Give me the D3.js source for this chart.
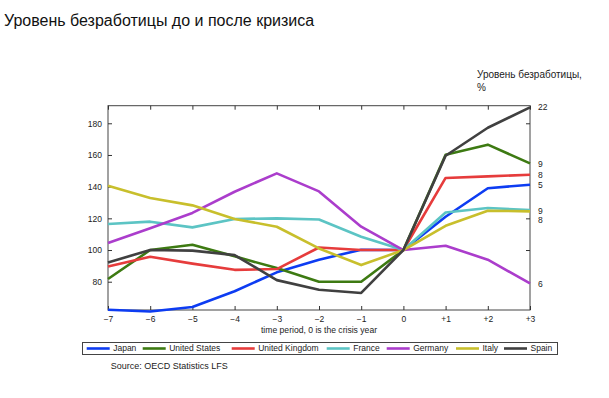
<!DOCTYPE html>
<html><head><meta charset="utf-8">
<script src="https://cdn.jsdelivr.net/npm/d3@7"></script>
<style>body{margin:0;background:#fff;}svg{display:block;font-family:"Liberation Sans",Arial,sans-serif;}</style>
</head><body><svg id="c" width="609" height="398"></svg>
<script>
const periods = [-7,-6,-5,-4,-3,-2,-1,0,1,2,3];
const periodLabels = ["−7","−6","−5","−4","−3","−2","−1","0","+1","+2","+3"];
const japan   = [62.3,61.2,64,74,85.9,93.9,100.2,100,121,139,141.2];
const us      = [81.7,100,103.3,96,88.6,80,80,100,160.2,166.5,154.7];
const uk      = [89.6,95.8,91.4,87.5,88,101.6,100,100,145.5,146.5,147.5];
const france  = [116.4,117.9,114.3,119.6,120,119.3,108.4,100,123.7,126.5,125.3];
const germany = [104.4,113.8,123.4,136.8,148.4,137,114.7,100,102.7,93.9,78.9];
const italy   = [140.6,132.8,128.2,119.6,114.7,101,90.5,100,115.3,124.8,124.4];
const spain   = [92.2,100,99.6,96.8,81,74.9,72.9,100,159.5,177.2,190];
const seriesNames = ["Japan","United States","United Kingdom","France","Germany","Italy","Spain"];
const seriesColors = ["#0d3cf2","#3d7a12","#e63c3c","#5cc4c4","#ab3dcc","#c8bf2c","#404040"];
const leftTicks = [80,100,120,140,160,180];
const rightTickValues = [180,120,100];
const rightLabels = ["22","9","8","5","9","8","6"];
const rightLabelValues = [190,154.3,147.4,141,124.8,119.1,78.5];

const seriesData = [japan,us,uk,france,germany,italy,spain];
const svg = d3.select("#c");
const L=108,R=530,T=105.7,B=310;
const x = d3.scaleLinear().domain([-7,3]).range([L,R]);
const y = d3.scaleLinear().domain([61.7,191.1]).range([B+0.7,T]);

svg.append("text").attr("x",4).attr("y",26).attr("font-size",16).attr("fill","#111")
  .text("Уровень безработицы до и после кризиса");

// frame
svg.append("rect").attr("x",L).attr("y",T).attr("width",R-L).attr("height",B-T)
  .attr("fill","none").attr("stroke","#444").attr("stroke-width",1);

const axC="#333";
const gx = svg.append("g").attr("transform",`translate(0,${B})`)
  .call(d3.axisBottom(x).tickValues(periods).tickSize(-4).tickPadding(6).tickFormat((d,i)=>periodLabels[i]));
gx.select(".domain").remove();
gx.selectAll("line").attr("stroke",axC);
gx.selectAll("text").attr("font-size",8.5).attr("fill","#222").attr("font-family","Liberation Sans, Arial, sans-serif");
const gt = svg.append("g").attr("transform",`translate(0,${T})`)
  .call(d3.axisTop(x).tickValues(periods).tickSize(-4).tickFormat(""));
gt.select(".domain").remove(); gt.selectAll("line").attr("stroke",axC);
const gy = svg.append("g").attr("transform",`translate(${L},0)`)
  .call(d3.axisLeft(y).tickValues(leftTicks).tickSize(-4).tickPadding(6));
gy.select(".domain").remove();
gy.selectAll("line").attr("stroke",axC);
gy.selectAll("text").attr("font-size",8.5).attr("fill","#222").attr("font-family","Liberation Sans, Arial, sans-serif");
const gr = svg.append("g").attr("transform",`translate(${R},0)`)
  .call(d3.axisRight(y).tickValues(rightTickValues).tickSize(-4).tickFormat(""));
gr.select(".domain").remove(); gr.selectAll("line").attr("stroke",axC);

const line = d3.line().x((d,i)=>x(periods[i])).y(d=>y(d));
seriesData.forEach((s,k)=>{
  svg.append("path").datum(s).attr("d",line).attr("fill","none")
    .attr("stroke",seriesColors[k]).attr("stroke-width",2.6).attr("stroke-linejoin","round");
});

rightLabels.forEach((t,i)=>{
  svg.append("text").attr("x",R+8).attr("y",y(rightLabelValues[i])).attr("dy","0.35em")
    .attr("font-size",8.5).attr("fill","#222").text(t);
});
svg.append("text").attr("x",477).attr("y",78).attr("font-size",10).attr("fill","#222").text("Уровень безработицы,");
svg.append("text").attr("x",477).attr("y",91).attr("font-size",10).attr("fill","#222").text("%");

svg.append("text").attr("x",319).attr("y",333).attr("text-anchor","middle").attr("font-size",8.6).attr("fill","#222")
  .text("time period, 0 is the crisis year");

svg.append("rect").attr("x",82.5).attr("y",342.5).attr("width",475).attr("height",12)
  .attr("fill","#fff").attr("stroke","#444").attr("stroke-width",1);
const legX = [86.7,142.7,231.7,326.7,386.7,456,504];
seriesNames.forEach((n,k)=>{
  svg.append("line").attr("x1",legX[k]).attr("x2",legX[k]+23).attr("y1",348.5).attr("y2",348.5)
    .attr("stroke",seriesColors[k]).attr("stroke-width",2.6);
  svg.append("text").attr("x",legX[k]+26.5).attr("y",348.5).attr("dy","0.35em").attr("font-size",8.5).attr("fill","#222").text(n);
});
svg.append("text").attr("x",110.7).attr("y",366).attr("dy","0.35em").attr("font-size",9).attr("fill","#222")
  .text("Source: OECD Statistics LFS");
</script></body></html>
